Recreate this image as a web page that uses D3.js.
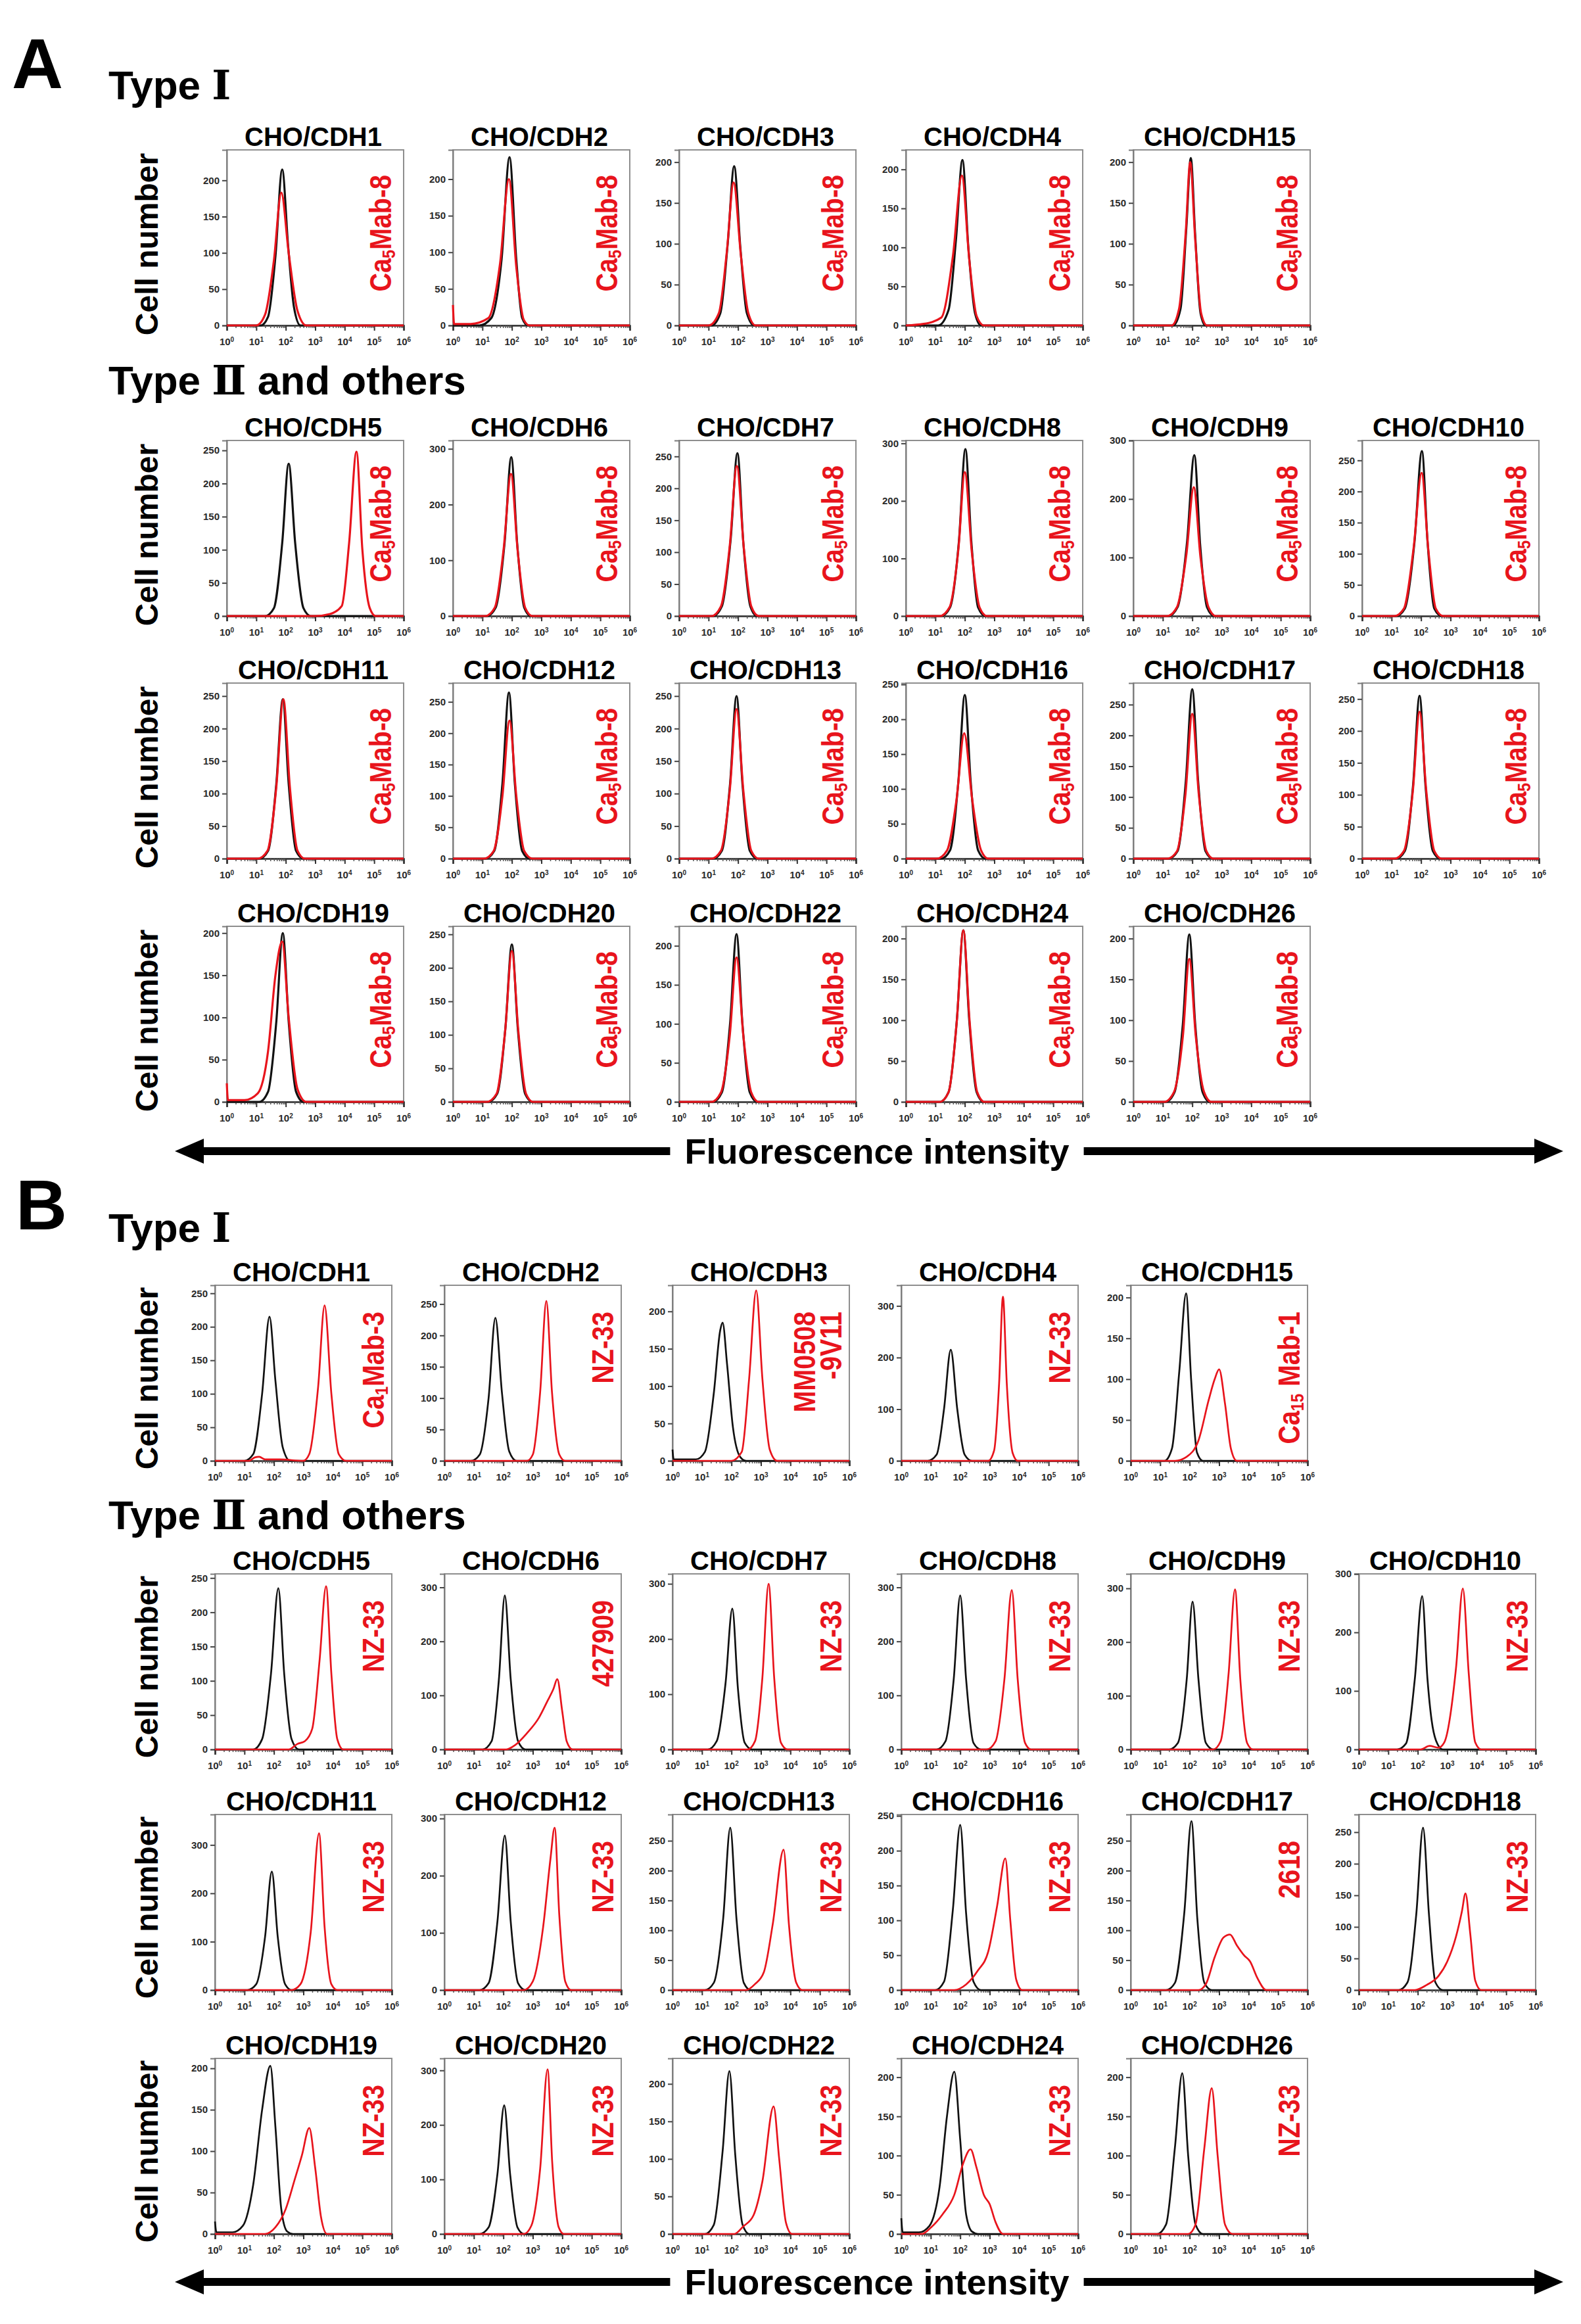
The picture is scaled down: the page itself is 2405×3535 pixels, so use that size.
<!DOCTYPE html>
<html>
<head>
<meta charset="utf-8">
<script src="https://cdn.jsdelivr.net/npm/d3@7/dist/d3.min.js"></script>
<style>
  body { margin: 0; background: #fff; }
  svg { display: block; }
</style>
</head>
<body>
<script>
// ---------- data ----------
// x values are log10 of fluorescence (0..6), y values are cell counts

let xDecades = [0, 1, 2, 3, 4, 5, 6]

// panel A : CasMab-8 on every cell line
let titlesA = [
  ['CHO/CDH1', 'CHO/CDH2', 'CHO/CDH3', 'CHO/CDH4', 'CHO/CDH15'],
  ['CHO/CDH5', 'CHO/CDH6', 'CHO/CDH7', 'CHO/CDH8', 'CHO/CDH9', 'CHO/CDH10'],
  ['CHO/CDH11', 'CHO/CDH12', 'CHO/CDH13', 'CHO/CDH16', 'CHO/CDH17', 'CHO/CDH18'],
  ['CHO/CDH19', 'CHO/CDH20', 'CHO/CDH22', 'CHO/CDH24', 'CHO/CDH26']
]
let labelA = 'Ca{5}Mab-8'
let yTopA = [[242, 240, 215, 225, 215], [265, 315, 275, 305, 300, 282], [270, 280, 270, 252, 285, 275], [208, 262, 225, 215, 215]]
let yStepA = [[50, 50, 50, 50, 50], [50, 100, 50, 100, 100, 50], [50, 50, 50, 50, 50, 50], [50, 50, 50, 50, 50]]

let blackA = [
  [
    [[0,0],[1.15,0],[1.4,12],[1.65,95],[1.88,215],[2.08,110],[2.28,25],[2.5,0],[6,0]],
    [[0,0],[0.9,0],[1.3,10],[1.65,90],[1.92,230],[2.15,90],[2.35,10],[2.55,0],[6,0]],
    [[0,0],[1.1,0],[1.4,15],[1.65,100],[1.87,195],[2.08,95],[2.3,15],[2.55,0],[6,0]],
    [[0,0],[1.1,0],[1.45,20],[1.7,110],[1.92,212],[2.12,100],[2.35,15],[2.55,0],[6,0]],
    [[0,0],[1.35,0],[1.6,20],[1.8,120],[1.95,205],[2.1,110],[2.28,15],[2.45,0],[6,0]]
  ],
  [
    [[0,0],[1.3,0],[1.6,12],[1.88,110],[2.1,230],[2.32,110],[2.6,12],[2.85,0],[6,0]],
    [[0,0],[1.15,0],[1.45,15],[1.75,130],[1.98,285],[2.18,130],[2.42,15],[2.65,0],[6,0]],
    [[0,0],[1.15,0],[1.45,15],[1.75,120],[1.98,255],[2.18,115],[2.42,15],[2.65,0],[6,0]],
    [[0,0],[1.2,0],[1.5,15],[1.8,130],[2.02,290],[2.22,130],[2.45,15],[2.7,0],[6,0]],
    [[0,0],[1.2,0],[1.5,15],[1.82,125],[2.07,275],[2.27,120],[2.5,15],[2.75,0],[6,0]],
    [[0,0],[1.15,0],[1.45,12],[1.78,120],[2.03,265],[2.22,120],[2.45,12],[2.7,0],[6,0]]
  ],
  [
    [[0,0],[1.1,0],[1.4,12],[1.68,115],[1.9,245],[2.1,115],[2.35,12],[2.6,0],[6,0]],
    [[0,0],[1.1,0],[1.4,12],[1.68,120],[1.9,265],[2.1,120],[2.35,12],[2.6,0],[6,0]],
    [[0,0],[1.15,0],[1.45,12],[1.73,115],[1.95,250],[2.15,115],[2.4,12],[2.65,0],[6,0]],
    [[0,0],[1.2,0],[1.5,12],[1.78,110],[2.0,235],[2.2,110],[2.45,12],[2.7,0],[6,0]],
    [[0,0],[1.2,0],[1.5,12],[1.78,125],[2.0,275],[2.2,125],[2.45,12],[2.7,0],[6,0]],
    [[0,0],[1.15,0],[1.45,12],[1.73,115],[1.95,255],[2.15,115],[2.4,12],[2.65,0],[6,0]]
  ],
  [
    [[0,0],[1.1,0],[1.4,12],[1.68,95],[1.9,200],[2.1,95],[2.35,12],[2.6,0],[6,0]],
    [[0,0],[1.2,0],[1.5,12],[1.78,110],[2.0,235],[2.2,110],[2.45,12],[2.7,0],[6,0]],
    [[0,0],[1.15,0],[1.45,12],[1.73,100],[1.95,215],[2.15,100],[2.4,12],[2.65,0],[6,0]],
    [[0,0],[1.15,0],[1.45,12],[1.73,100],[1.95,210],[2.15,100],[2.4,12],[2.65,0],[6,0]],
    [[0,0],[1.1,0],[1.4,12],[1.68,95],[1.9,205],[2.1,95],[2.35,12],[2.6,0],[6,0]]
  ]
]

let redA = [
  [
    [[0,0],[1.0,0],[1.3,15],[1.6,90],[1.85,183],[2.1,100],[2.4,20],[2.7,0],[6,0]],
    [[0,28],[0.04,2],[0.6,2],[1.2,10],[1.6,85],[1.9,200],[2.15,80],[2.4,8],[2.6,0],[6,0]],
    [[0,0],[1.0,0],[1.35,15],[1.62,90],[1.85,175],[2.1,85],[2.35,15],[2.6,0],[6,0]],
    [[0,0],[0.6,2],[1.2,10],[1.6,90],[1.9,192],[2.15,85],[2.4,12],[2.65,0],[6,0]],
    [[0,0],[1.3,0],[1.55,20],[1.78,115],[1.93,200],[2.1,105],[2.3,15],[2.5,0],[6,0]]
  ],
  [
    [[0,0],[3.0,0],[3.5,3],[3.9,15],[4.15,110],[4.4,248],[4.6,100],[4.85,12],[5.05,0],[6,0]],
    [[0,0],[1.1,0],[1.42,15],[1.72,120],[1.97,255],[2.2,115],[2.45,15],[2.7,0],[6,0]],
    [[0,0],[1.1,0],[1.42,15],[1.72,110],[1.96,235],[2.2,105],[2.45,15],[2.7,0],[6,0]],
    [[0,0],[1.15,0],[1.48,15],[1.78,115],[2.0,250],[2.24,110],[2.5,15],[2.75,0],[6,0]],
    [[0,0],[1.15,0],[1.48,15],[1.8,105],[2.05,220],[2.28,100],[2.55,15],[2.8,0],[6,0]],
    [[0,0],[1.1,0],[1.42,12],[1.75,110],[2.02,230],[2.25,105],[2.5,12],[2.75,0],[6,0]]
  ],
  [
    [[0,0],[1.05,0],[1.38,12],[1.68,110],[1.92,245],[2.14,110],[2.4,12],[2.65,0],[6,0]],
    [[0,0],[1.05,0],[1.38,12],[1.68,100],[1.92,220],[2.15,100],[2.42,12],[2.7,0],[6,0]],
    [[0,0],[1.1,0],[1.42,12],[1.72,105],[1.95,230],[2.18,105],[2.45,12],[2.7,0],[6,0]],
    [[0,0],[1.05,0],[1.4,12],[1.72,85],[1.98,180],[2.25,85],[2.55,12],[2.8,0],[6,0]],
    [[0,0],[1.15,0],[1.48,12],[1.77,105],[2.0,235],[2.22,105],[2.48,12],[2.72,0],[6,0]],
    [[0,0],[1.1,0],[1.42,12],[1.72,105],[1.95,230],[2.18,105],[2.45,12],[2.7,0],[6,0]]
  ],
  [
    [[0,22],[0.04,2],[0.6,2],[1.05,10],[1.4,60],[1.65,150],[1.88,190],[2.1,100],[2.4,15],[2.7,0],[6,0]],
    [[0,0],[1.15,0],[1.48,12],[1.77,105],[2.0,225],[2.22,105],[2.48,12],[2.72,0],[6,0]],
    [[0,0],[1.1,0],[1.42,12],[1.72,85],[1.95,185],[2.18,85],[2.45,12],[2.7,0],[6,0]],
    [[0,0],[1.15,0],[1.45,12],[1.73,100],[1.95,210],[2.16,100],[2.42,12],[2.67,0],[6,0]],
    [[0,0],[1.05,0],[1.38,12],[1.68,80],[1.9,175],[2.12,80],[2.4,12],[2.65,0],[6,0]]
  ]
]

// panel B : antibodies for each cadherin
let titlesB = titlesA
let labelsB = [
  ['Ca{1}Mab-3', 'NZ-33', 'MM0508|-9V11', 'NZ-33', 'Ca{15} Mab-1'],
  ['NZ-33', '427909', 'NZ-33', 'NZ-33', 'NZ-33', 'NZ-33'],
  ['NZ-33', 'NZ-33', 'NZ-33', 'NZ-33', '2618', 'NZ-33'],
  ['NZ-33', 'NZ-33', 'NZ-33', 'NZ-33', 'NZ-33']
]
let yTopB = [[262, 280, 235, 340, 215], [256, 325, 318, 325, 327, 300], [363, 307, 294, 252, 294, 278], [212, 322, 234, 224, 224]]
let yStepB = [[50, 50, 50, 100, 50], [50, 100, 100, 100, 100, 100], [100, 100, 50, 50, 50, 50], [50, 100, 50, 50, 50]]

let blackB = [
  [
    [[0,0],[1.0,0],[1.3,10],[1.6,100],[1.85,215],[2.05,120],[2.3,20],[2.55,0],[6,0]],
    [[0,0],[0.9,0],[1.2,10],[1.5,100],[1.73,228],[1.95,110],[2.2,15],[2.45,0],[6,0]],
    [[0,15],[0.04,2],[0.8,2],[1.1,12],[1.4,90],[1.62,175],[1.7,185],[1.85,130],[2.05,45],[2.3,5],[2.5,0],[6,0]],
    [[0,0],[0.9,0],[1.2,12],[1.45,100],[1.68,215],[1.9,100],[2.15,12],[2.4,0],[6,0]],
    [[0,0],[1.15,0],[1.4,15],[1.65,110],[1.88,205],[2.05,100],[2.25,10],[2.45,0],[6,0]]
  ],
  [
    [[0,0],[1.3,0],[1.6,15],[1.9,110],[2.15,235],[2.35,110],[2.6,15],[2.85,0],[6,0]],
    [[0,0],[1.3,0],[1.6,15],[1.85,130],[2.05,285],[2.25,130],[2.5,15],[2.75,0],[6,0]],
    [[0,0],[1.2,0],[1.5,15],[1.8,120],[2.03,255],[2.22,110],[2.45,12],[2.7,0],[6,0]],
    [[0,0],[1.2,0],[1.5,15],[1.78,130],[2.0,285],[2.2,130],[2.45,12],[2.7,0],[6,0]],
    [[0,0],[1.3,0],[1.6,12],[1.9,130],[2.1,275],[2.3,130],[2.55,12],[2.8,0],[6,0]],
    [[0,0],[1.3,0],[1.6,10],[1.9,120],[2.15,262],[2.33,120],[2.47,50],[2.62,15],[2.85,0],[6,0]]
  ],
  [
    [[0,0],[1.1,0],[1.4,12],[1.7,110],[1.93,245],[2.13,110],[2.38,12],[2.6,0],[6,0]],
    [[0,0],[1.2,0],[1.5,12],[1.8,120],[2.05,270],[2.25,120],[2.5,12],[2.75,0],[6,0]],
    [[0,0],[1.1,0],[1.4,12],[1.72,120],[1.96,272],[2.17,120],[2.42,12],[2.65,0],[6,0]],
    [[0,0],[1.15,0],[1.45,12],[1.75,115],[2.0,237],[2.2,110],[2.45,12],[2.7,0],[6,0]],
    [[0,0],[1.2,0],[1.5,12],[1.82,130],[2.06,283],[2.26,120],[2.5,12],[2.75,0],[6,0]],
    [[0,0],[1.35,0],[1.65,12],[1.95,120],[2.18,257],[2.38,120],[2.6,12],[2.85,0],[6,0]]
  ],
  [
    [[0,15],[0.05,2],[0.6,2],[0.95,10],[1.3,60],[1.6,150],[1.88,203],[2.05,130],[2.25,30],[2.45,3],[2.65,0],[6,0]],
    [[0,0],[1.2,0],[1.5,12],[1.8,110],[2.03,236],[2.23,110],[2.48,12],[2.7,0],[6,0]],
    [[0,0],[1.1,0],[1.4,12],[1.7,110],[1.93,217],[2.13,105],[2.38,12],[2.6,0],[6,0]],
    [[0,20],[0.05,2],[0.6,2],[0.95,10],[1.3,60],[1.55,150],[1.8,207],[2.0,120],[2.2,25],[2.4,3],[2.6,0],[6,0]],
    [[0,0],[0.9,0],[1.2,12],[1.5,110],[1.75,205],[1.95,100],[2.2,12],[2.45,0],[6,0]]
  ]
]

let redB = [
  [
    [[0,0],[1.15,0],[1.35,5],[1.5,6],[1.7,2],[2.2,2],[3.0,0],[3.2,10],[3.5,110],[3.72,232],[3.95,100],[4.2,10],[4.45,0],[6,0]],
    [[0,0],[2.8,0],[3.0,10],[3.25,110],[3.46,255],[3.65,110],[3.9,10],[4.1,0],[6,0]],
    [[0,0],[2.0,0],[2.35,12],[2.6,110],[2.84,228],[3.05,110],[3.3,15],[3.55,0],[6,0]],
    [[0,0],[2.95,0],[3.15,20],[3.32,150],[3.45,318],[3.58,150],[3.78,15],[3.95,0],[6,0]],
    [[0,0],[1.5,0],[1.9,5],[2.3,25],[2.65,75],[2.85,100],[3.0,112],[3.2,70],[3.4,15],[3.6,0],[6,0]]
  ],
  [
    [[0,0],[2.5,0],[2.8,8],[3.05,12],[3.3,30],[3.55,130],[3.77,238],[3.95,110],[4.15,15],[4.35,0],[6,0]],
    [[0,0],[2.1,0],[2.4,8],[2.8,30],[3.2,58],[3.5,90],[3.7,112],[3.83,130],[4.0,70],[4.15,15],[4.35,0],[6,0]],
    [[0,0],[2.55,0],[2.8,15],[3.05,130],[3.26,300],[3.45,130],[3.68,12],[3.9,0],[6,0]],
    [[0,0],[2.9,0],[3.2,15],[3.5,130],[3.75,295],[3.95,130],[4.2,12],[4.4,0],[6,0]],
    [[0,0],[2.8,0],[3.05,15],[3.32,140],[3.54,298],[3.72,130],[3.95,12],[4.15,0],[6,0]],
    [[0,0],[2.1,0],[2.4,6],[2.7,3],[2.9,12],[3.3,140],[3.53,275],[3.73,130],[3.95,12],[4.15,0],[6,0]]
  ],
  [
    [[0,0],[2.6,0],[2.9,12],[3.25,120],[3.53,324],[3.72,130],[3.95,12],[4.15,0],[6,0]],
    [[0,0],[2.7,0],[3.0,15],[3.35,110],[3.6,230],[3.74,284],[3.9,130],[4.1,15],[4.3,0],[6,0]],
    [[0,0],[2.5,0],[2.8,10],[3.1,30],[3.4,110],[3.77,235],[3.95,110],[4.2,12],[4.4,0],[6,0]],
    [[0,0],[1.8,0],[2.2,8],[2.6,28],[2.95,55],[3.25,120],[3.53,189],[3.7,100],[3.9,15],[4.1,0],[6,0]],
    [[0,0],[2.3,0],[2.55,10],[2.85,55],[3.15,88],[3.37,93],[3.6,75],[3.85,58],[4.05,48],[4.3,20],[4.6,0],[6,0]],
    [[0,0],[1.9,0],[2.3,8],[2.7,22],[3.0,45],[3.3,85],[3.5,125],[3.62,153],[3.78,90],[3.95,15],[4.15,0],[6,0]]
  ],
  [
    [[0,0],[1.7,0],[2.05,8],[2.4,30],[2.7,65],[2.95,95],[3.2,128],[3.4,80],[3.6,20],[3.8,0],[6,0]],
    [[0,0],[2.7,0],[2.95,15],[3.25,120],[3.5,302],[3.66,130],[3.88,12],[4.05,0],[6,0]],
    [[0,0],[2.1,0],[2.4,10],[2.75,25],[3.05,70],[3.43,170],[3.62,100],[3.85,15],[4.05,0],[6,0]],
    [[0,0],[0.7,0],[1.0,8],[1.4,25],[1.8,50],[2.1,90],[2.35,108],[2.55,85],[2.8,50],[3.0,38],[3.2,15],[3.45,0],[6,0]],
    [[0,0],[1.95,0],[2.2,12],[2.5,110],[2.75,186],[2.95,100],[3.2,12],[3.45,0],[6,0]]
  ]
]

// ---------- layout ----------
const FONT = '"Liberation Sans", Arial, Helvetica, sans-serif'
const RED = '#e8141c'
let boxW = 269, boxH = 267
let colsA = [345, 689, 1033, 1378, 1724, 2072]
let colsB = [327, 676, 1023, 1371, 1720, 2067]
let rowTopsA = [228, 670, 1039, 1409]
let rowTopsB = [1955, 2394, 2760, 3131]

let svg = d3.select('body').append('svg')
  .attr('width', 2405)
  .attr('height', 3535)
  .attr('font-family', FONT)
  .attr('font-weight', 'bold')

svg.append('rect').attr('width', 2405).attr('height', 3535).attr('fill', '#fff')

let xScale = d3.scaleLinear().domain([0, 6]).range([0, boxW])
let minorTicks = []
xDecades.slice(0, -1).forEach(d => {
  for (let k = 2; k < 10; k++) minorTicks.push(d + Math.log10(k))
})

// writes "Ca{5}Mab-8" style text, braces = subscript
let addLabelLine = (text, str, lineY) => {
  let parts = str.split(/[{}]/)
  parts.forEach((p, i) => {
    if (p === '') return
    let ts = text.append('tspan').text(p)
    if (i === 0) ts.attr('x', 0).attr('y', lineY)
    if (i % 2 === 1) {
      ts.attr('font-size', 28).attr('dy', 6)
    } else if (i > 0) {
      ts.attr('dy', -6)
    }
  })
}

let drawPanel = (px, py, title, yTop, yStep, black, red, label, lw, labelOff, labelTop) => {
  let g = svg.append('g').attr('transform', `translate(${px},${py})`)
  let y = d3.scaleLinear().domain([0, yTop]).range([boxH, 0])

  g.append('rect')
    .attr('width', boxW)
    .attr('height', boxH)
    .attr('fill', 'none')
    .attr('stroke', '#8e8e8e')
    .attr('stroke-width', 2)

  // y axis
  let ya = g.append('g')
    .call(d3.axisLeft(y).tickValues(d3.range(0, yTop + 1, yStep)).tickSize(7).tickPadding(4))
    .attr('font-family', FONT)
    .attr('font-size', 15)
  ya.select('.domain').attr('stroke', '#7a7a7a').attr('stroke-width', 2)
  ya.selectAll('.tick line').attr('stroke', '#444').attr('stroke-width', 2)
  ya.selectAll('.tick text').attr('fill', '#2a2a2a')

  // x axis, major + minor log ticks
  let xa = g.append('g')
    .attr('transform', `translate(0,${boxH})`)
    .call(d3.axisBottom(xScale).tickValues(xDecades).tickSize(8).tickFormat(''))
  xa.select('.domain').attr('stroke', '#333').attr('stroke-width', 2.5)
  xa.selectAll('.tick line').attr('stroke', '#333').attr('stroke-width', 2)
  g.append('g')
    .attr('transform', `translate(0,${boxH})`)
    .call(d3.axisBottom(xScale).tickValues(minorTicks).tickSize(4).tickFormat(''))
    .call(s => s.select('.domain').remove())
    .selectAll('.tick line').attr('stroke', '#555').attr('stroke-width', 1.5)

  g.selectAll('.xlab')
    .data(xDecades)
    .enter()
    .append('text')
    .attr('class', 'xlab')
    .attr('x', d => xScale(d))
    .attr('y', boxH + 30)
    .attr('text-anchor', 'middle')
    .attr('font-size', 15)
    .attr('fill', '#2a2a2a')
    .each(function (d) {
      let t = d3.select(this)
      t.append('tspan').text('10')
      t.append('tspan').attr('font-size', 10).attr('dy', -5).text(d)
    })

  // histograms
  let line = d3.line()
    .x(d => xScale(d[0]))
    .y(d => y(d[1]))
    .curve(d3.curveMonotoneX)
  g.append('path').datum(black)
    .attr('d', line)
    .attr('fill', 'none')
    .attr('stroke', '#111')
    .attr('stroke-width', lw)
  g.append('path').datum(red)
    .attr('d', line)
    .attr('fill', 'none')
    .attr('stroke', RED)
    .attr('stroke-width', lw)

  // title
  g.append('text')
    .attr('x', boxW / 2 - 3)
    .attr('y', -6)
    .attr('text-anchor', 'middle')
    .attr('font-size', 40)
    .attr('fill', '#000')
    .text(title)

  // antibody name, rotated
  let lines = label.split('|')
  let lt = g.append('text')
    .attr('transform', `translate(${boxW - labelOff - 40 * (lines.length - 1)},${labelTop}) rotate(-90) scale(0.84,1)`)
    .attr('text-anchor', 'end')
    .attr('font-size', 47)
    .attr('fill', RED)
  lines.forEach((ln, i) => addLabelLine(lt, ln, i * 40))
}

let drawCellNumber = (cy) => {
  svg.append('text')
    .attr('transform', `translate(240,${cy}) rotate(-90)`)
    .attr('text-anchor', 'middle')
    .attr('font-size', 48)
    .attr('fill', '#000')
    .text('Cell number')
}

let drawHeader = (x, y, before, numeral, after) => {
  let t = svg.append('text')
    .attr('transform', `translate(${x},${y})`)
    .attr('font-size', 62)
    .attr('fill', '#000')
  t.append('tspan').text(before)
  t.append('tspan')
    .attr('font-family', '"DejaVu Serif", "Noto Sans CJK JP", serif')
    .attr('font-weight', 'bold')
    .text(numeral)
  if (after) t.append('tspan').text(after)
}

let drawArrow = (cy) => {
  let txt = svg.append('text')
    .attr('x', 1334)
    .attr('y', cy + 19)
    .attr('text-anchor', 'middle')
    .attr('font-size', 54)
    .attr('fill', '#000')
    .text('Fluorescence intensity')
  let tw = txt.node().getComputedTextLength()
  let x0 = 266, x1 = 1334 - tw / 2 - 22, x2 = 1334 + tw / 2 + 22, x3 = 2378
  let bh = 6, hh = 19, hl = 44
  let p = d3.path()
  p.moveTo(x0, cy); p.lineTo(x0 + hl, cy - hh); p.lineTo(x0 + hl, cy - bh); p.lineTo(x1, cy - bh)
  p.lineTo(x1, cy + bh); p.lineTo(x0 + hl, cy + bh); p.lineTo(x0 + hl, cy + hh); p.closePath()
  p.moveTo(x3, cy); p.lineTo(x3 - hl, cy - hh); p.lineTo(x3 - hl, cy - bh); p.lineTo(x2, cy - bh)
  p.lineTo(x2, cy + bh); p.lineTo(x3 - hl, cy + bh); p.lineTo(x3 - hl, cy + hh); p.closePath()
  svg.append('path').attr('d', p.toString()).attr('fill', '#000')
}

// ---------- panel A ----------
svg.append('text').attr('x', 18).attr('y', 134).attr('font-size', 108).text('A')
drawHeader(165, 151, 'Type ', 'Ⅰ', null)
drawHeader(165, 600, 'Type ', 'Ⅱ', '  and others')

titlesA.forEach((row, r) => {
  row.forEach((title, c) => {
    drawPanel(colsA[c], rowTopsA[r], title, yTopA[r][c], yStepA[r][c],
      blackA[r][c], redA[r][c], labelA, 3.2, 19, 38)
  })
  drawCellNumber(rowTopsA[r] + boxH / 2 + 10)
})
drawArrow(1751)

// ---------- panel B ----------
svg.append('text').attr('x', 24).attr('y', 1870).attr('font-size', 108).text('B')
drawHeader(165, 1889, 'Type ', 'Ⅰ', null)
drawHeader(165, 2326, 'Type ', 'Ⅱ', '  and others')

titlesB.forEach((row, r) => {
  row.forEach((title, c) => {
    drawPanel(colsB[c], rowTopsB[r], title, yTopB[r][c], yStepB[r][c],
      blackB[r][c], redB[r][c], labelsB[r][c], 2.7, 12, 40)
  })
  drawCellNumber(rowTopsB[r] + boxH / 2 + 8)
})
drawArrow(3471)
</script>
</body>
</html>
